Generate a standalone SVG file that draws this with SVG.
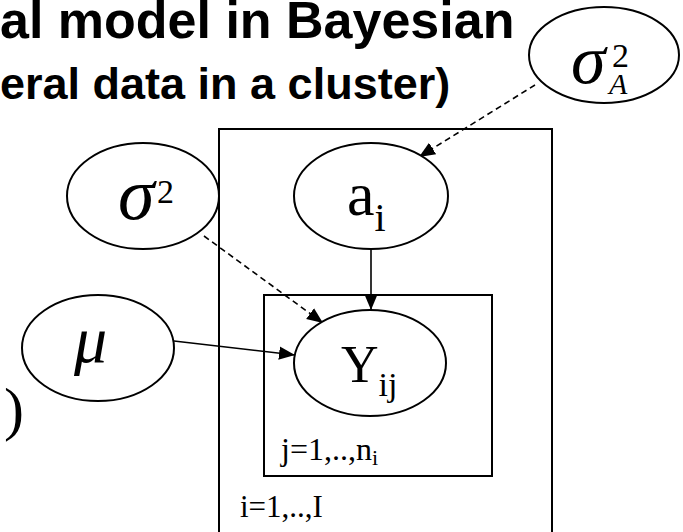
<svg xmlns="http://www.w3.org/2000/svg" width="683" height="532" viewBox="0 0 683 532">
<defs>
<style>
.title{font-family:"Liberation Sans",Arial,sans-serif;font-weight:bold;fill:#000}
.node{fill:#fff;stroke:#000;stroke-width:2}
.plate{fill:none;stroke:#000;stroke-width:2}
.lbl{font-family:"Liberation Serif","Times New Roman",serif;fill:#000}
.it{font-style:italic}
.edge{stroke:#000;stroke-width:1.6;fill:none}
.dash{stroke-dasharray:6 4}
</style>
<marker id="arrL" viewBox="0 0 10 10" refX="10" refY="5" markerWidth="16" markerHeight="16" markerUnits="userSpaceOnUse" orient="auto">
<path d="M0,0.8 L10,5 L0,9.2 z" fill="#000"/>
</marker>
</defs>
<rect width="683" height="532" fill="#fff"/>
<g id="title">
<text class="title" x="0" y="38" font-size="52">al model in Bayesian</text>
<text class="title" x="0" y="99" font-size="45">eral data in a cluster)</text>
</g>
<text class="lbl" x="4" y="429" font-size="60">)</text>
<g id="plate-i">
<rect class="plate" x="219" y="129" width="333" height="420"/>
<text class="lbl" x="240" y="517" font-size="31">i=1,..,I</text>
</g>
<g id="plate-j">
<rect class="plate" x="264" y="295" width="228" height="181"/>
<text class="lbl" x="281" y="460" font-size="32">j=1,..,n<tspan font-size="22" dy="5">i</tspan></text>
</g>
<g id="connectors">
<line class="edge dash" x1="535" y1="85" x2="419" y2="157" marker-end="url(#arrL)"/>
<line class="edge dash" x1="204" y1="236" x2="323" y2="323" marker-end="url(#arrL)"/>
<line class="edge" x1="174" y1="341" x2="295" y2="355" marker-end="url(#arrL)"/>
<line class="edge" x1="371" y1="249" x2="371" y2="310" marker-end="url(#arrL)"/>
</g>
<g id="sigmaA2">
<ellipse class="node" cx="604" cy="55" rx="75" ry="48"/>
<text class="lbl it" x="571" y="83" font-size="70">σ</text>
<text class="lbl" x="612" y="67" font-size="34">2</text>
<text class="lbl it" x="609" y="94" font-size="30">A</text>
</g>
<g id="sigma2">
<ellipse class="node" cx="143" cy="196" rx="76" ry="53"/>
<text class="lbl it" x="118" y="219" font-size="74">σ</text>
<text class="lbl" x="157" y="203" font-size="34">2</text>
</g>
<g id="a_i">
<ellipse class="node" cx="371" cy="196" rx="77" ry="53"/>
<text class="lbl" x="347" y="215" font-size="62">a<tspan font-size="40" dy="16">i</tspan></text>
</g>
<g id="mu">
<ellipse class="node" cx="98" cy="348" rx="76" ry="53"/>
<text class="lbl it" x="74" y="362" font-size="66">μ</text>
</g>
<g id="Y_ij">
<ellipse class="node" cx="370" cy="363" rx="76" ry="53"/>
<text class="lbl" x="341" y="382" font-size="52">Y<tspan font-size="34" dy="14">ij</tspan></text>
</g>
</svg>
